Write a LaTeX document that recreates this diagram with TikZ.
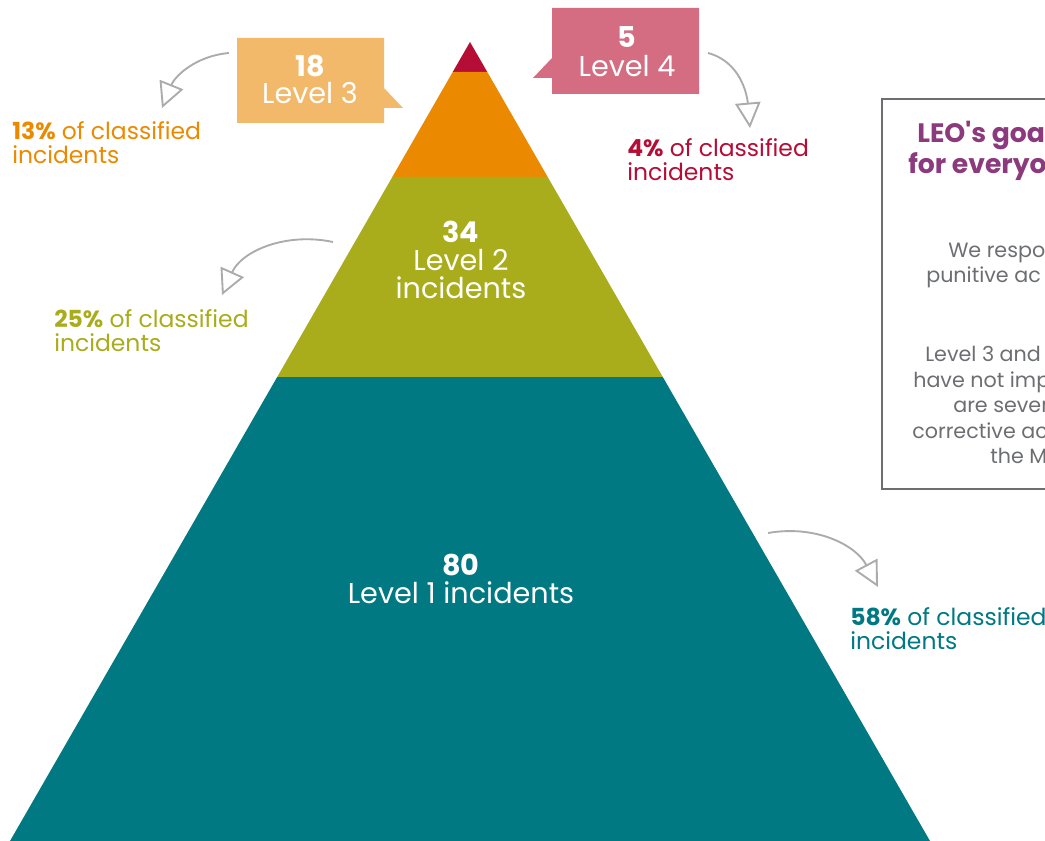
\documentclass[tikz,border=0pt]{standalone}
\usepackage{fontspec}
\setmainfont{Poppins}[Ligatures=TeXOff]
\usetikzlibrary{positioning,arrows.meta}

\definecolor{tierfour}{HTML}{B50D35}
\definecolor{tierthree}{HTML}{EB8A00}
\definecolor{tiertwo}{HTML}{A9AC1B}
\definecolor{tierone}{HTML}{007983}
\definecolor{calloutthree}{HTML}{F3B96A}
\definecolor{calloutfour}{HTML}{D46D81}
\definecolor{pointergrey}{HTML}{ABABAB}
\definecolor{framegrey}{HTML}{6D6E71}
\definecolor{goalpurple}{HTML}{8C3A7E}

\begin{document}
\begin{tikzpicture}[x=0.75pt,y=-0.75pt,
   count/.style = {anchor=base, inner sep=0pt, text=white,
                   font=\fontsize{21.5}{24}\selectfont\bfseries},
   tiername/.style = {anchor=base, inner sep=0pt, text=white,
                   font=\fontsize{21.5}{24}\selectfont},
   share/.style = {anchor=base west, inner sep=0pt,
                   font=\fontsize{17.6}{20}\selectfont},
   pointer/.style = {draw=pointergrey, line width=1.4pt,
                   -{Triangle[open,length=19pt,width=19pt,line width=1.4pt]}},
   goal/.style = {anchor=base west, inner sep=0pt, text=goalpurple,
                   font=\fontsize{20}{24}\selectfont\bfseries},
   goaltext/.style = {anchor=base west, inner sep=0pt, text=framegrey,
                   font=\fontsize{15.5}{19}\selectfont}
]
   \useasboundingbox (0,0) rectangle (1045,841);
   \clip (0,0) rectangle (1045,841);

   % pyramid
   \coordinate (apex) at (470,42);
   \fill[tierfour]  (apex) -- (487.3,72) -- (452.7,72) -- cycle;
   \fill[tierthree] (452.7,72) -- (487.3,72) -- (547.7,177) -- (392.3,177) -- cycle;
   \fill[tiertwo]   (392.3,177) -- (547.7,177) -- (662.8,377) -- (277.2,377) -- cycle;
   \fill[tierone]   (277.2,377) -- (662.8,377) -- (930,841) -- (10,841) -- cycle;

   \node[count]    (n2) at (461,243) {34};
   \node[tiername] (l2) at (461,271) {Level 2};
   \node[tiername] (i2) at (461,299) {incidents};
   \node[count]    (n1) at (461,575) {80};
   \node[tiername] (l1) at (461,603) {Level 1 incidents};

   % callouts
   \fill[calloutthree] (237,38) -- (384,38) -- (384,88) -- (403,108)
      -- (384,108) -- (384,123) -- (237,123) -- cycle;
   \node[count]    (n3) at (310,77) {18};
   \node[tiername] (l3) at (310,104) {Level 3};
   \fill[calloutfour] (552,8) -- (699,8) -- (699,94) -- (552,94)
      -- (552,78) -- (533,78) -- (552,58) -- cycle;
   \node[count]    (n4) at (627,48) {5};
   \node[tiername] (l4) at (627,77) {Level 4};

   % shares
   \node[share, text=tierthree] (s3a) at (12,140) {\textbf{13\%} of classified};
   \node[share, text=tierthree] (s3b) at (12,164) {incidents};
   \node[share, text=tierfour]  (s4a) at (627,157) {\textbf{4\%} of classified};
   \node[share, text=tierfour]  (s4b) at (627,181) {incidents};
   \node[share, text=tiertwo]   (s2a) at (54,328) {\textbf{25\%} of classified};
   \node[share, text=tiertwo]   (s2b) at (54,352) {incidents};
   \node[share, text=tierone]   (s1a) at (850,625) {\textbf{58\%} of classified};
   \node[share, text=tierone]   (s1b) at (850,649) {incidents};

   % pointers
   \coordinate (p3s) at (229,53);  \coordinate (p3e) at (162,108);
   \coordinate (p4s) at (708,53);  \coordinate (p4e) at (750,128);
   \coordinate (p2s) at (333,242); \coordinate (p2e) at (222,295);
   \coordinate (p1s) at (768,533); \coordinate (p1e) at (878,587);
   \draw[pointer] (p3s) to[out=185,in=68] (p3e);
   \draw[pointer] (p4s) to[out=-15,in=95] (p4e);
   \draw[pointer] (p2s) to[out=168,in=66] (p2e);
   \draw[pointer] (p1s) to[out=10,in=118] (p1e);

   % goal frame
   \draw[framegrey, line width=2.2pt] (882,99) rectangle (1120,489);
   \node[goal] (g1) at (917,143) {LEO's goa};
   \node[goal] (g2) at (908,174) {for everyo};
   \node[goaltext] (t1) at (948,258) {We respo};
   \node[goaltext] (t2) at (926,283) {punitive ac};
   \node[goaltext] (t3) at (925,362) {Level 3 and};
   \node[goaltext] (t4) at (913,387) {have not imp};
   \node[goaltext] (t5) at (953,412) {are sever};
   \node[goaltext] (t6) at (912,438) {corrective ac};
   \node[goaltext] (t7) at (990,463) {the M};
\end{tikzpicture}
\end{document}
